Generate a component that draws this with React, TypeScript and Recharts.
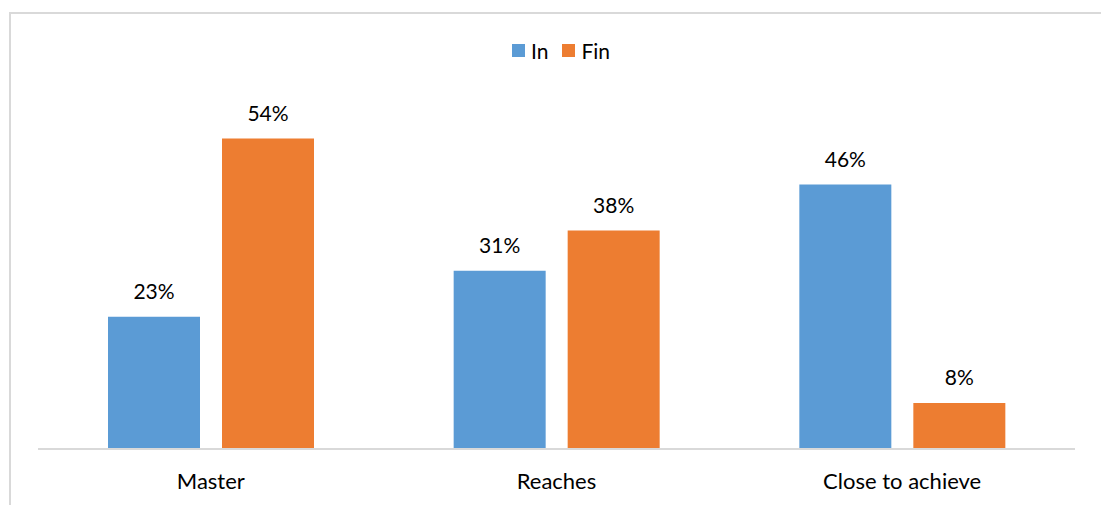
import React from "react";
import { BarChart, Bar, XAxis, YAxis, Legend, LabelList } from "recharts";

const categories: string[] = ["Master", "Reaches", "Close to achieve"];
const inValues: number[] = [23, 31, 46];
const finValues: number[] = [54, 38, 8];
const seriesOrder: string[] = ["In", "Fin"];

const BLUE = "#5B9BD5";
const ORANGE = "#ED7D31";
const FONT = "Lato, 'Open Sans', sans-serif";

const data = categories.map((name, i) => ({
  name,
  In: inValues[i],
  Fin: finValues[i],
}));

// keep the legend in series order rather than alphabetical
const LegendContent = (props: any) => {
  const items = [...(props.payload || [])].sort(
    (a: any, b: any) => seriesOrder.indexOf(a.value) - seriesOrder.indexOf(b.value)
  );
  return (
    <div style={{ display: "flex", alignItems: "center", fontFamily: FONT, fontSize: 21, color: "#000" }}>
      {items.map((it: any) => (
        <div key={it.value} style={{ display: "flex", alignItems: "center", marginRight: 14 }}>
          <span style={{ width: 13, height: 13, background: it.color, display: "inline-block", marginRight: 6 }} />
          <span>{it.value}</span>
        </div>
      ))}
    </div>
  );
};

const pct = (v: any) => `${v}%`;

export default function App() {
  return (
    <div style={{ position: "absolute", left: 0, top: 0, width: 1101, height: 505, background: "#fff", overflow: "hidden" }}>
      <div
        style={{
          position: "absolute",
          left: 9,
          top: 12,
          width: 1200,
          height: 600,
          borderLeft: "2px solid #d9d9d9",
          borderTop: "2px solid #d9d9d9",
        }}
      />
      <div style={{ position: "absolute", left: 0, top: 0 }}>
        <BarChart
          width={1101}
          height={505}
          data={data}
          margin={{ top: 104, right: 26, bottom: 26, left: 38 }}
          barSize={92}
          barGap={22}
        >
          <XAxis
            dataKey="name"
            axisLine={{ stroke: "#d9d9d9", strokeWidth: 2 }}
            tickLine={false}
            tickSize={0}
            tickMargin={24}
            tick={{ fill: "#000", fontSize: 22, fontFamily: FONT }}
          />
          <YAxis hide domain={[0, 60]} />
          <Legend
            verticalAlign="middle"
            align="center"
            content={<LegendContent />}
            wrapperStyle={{ top: 38, left: 512, width: "auto", height: "auto" }}
          />
          <Bar dataKey="In" fill={BLUE} isAnimationActive={false}>
            <LabelList dataKey="In" position="top" offset={18} formatter={pct} fill="#000" fontSize={21} fontFamily={FONT} />
          </Bar>
          <Bar dataKey="Fin" fill={ORANGE} isAnimationActive={false}>
            <LabelList dataKey="Fin" position="top" offset={18} formatter={pct} fill="#000" fontSize={21} fontFamily={FONT} />
          </Bar>
        </BarChart>
      </div>
    </div>
  );
}
